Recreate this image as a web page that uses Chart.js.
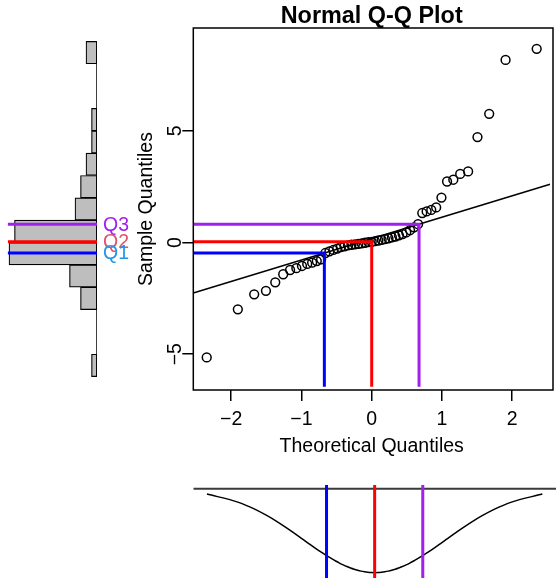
<!DOCTYPE html>
<html>
<head>
<meta charset="utf-8">
<script src="https://cdn.jsdelivr.net/npm/chart.js@4.4.1/dist/chart.umd.min.js"></script>
<style>
  html, body { margin: 0; padding: 0; background: #fff; }
  #wrap { position: relative; width: 556px; height: 578px; overflow: hidden; }
  canvas { position: absolute; }
</style>
</head>
<body>
<div id="wrap">
  <canvas id="histChart" width="140" height="460" style="left:0;top:0"></canvas>
  <canvas id="qqChart" width="556" height="460" style="left:0;top:0"></canvas>
  <canvas id="densChart" width="556" height="118" style="left:0;top:460px"></canvas>
</div>
<script>
// sorted sample values
const sampleQuantiles = [
  -5.14, -2.99, -2.32, -2.16, -1.78, -1.42, -1.23, -1.15, -1.05, -0.96,
  -0.90, -0.83, -0.75, -0.47, -0.40, -0.33, -0.27, -0.21, -0.17, -0.13,
  -0.10, -0.08, -0.06, -0.04, -0.01, 0.02, 0.03, 0.06, 0.09, 0.12,
  0.15, 0.19, 0.23, 0.27, 0.32, 0.38, 0.45, 0.55, 0.68, 0.82,
  1.32, 1.39, 1.46, 1.57, 2.01, 2.73, 2.81, 3.07, 3.18, 4.72,
  5.76, 8.17, 8.67
];

// theoretical normal quantiles for 53 points
const theoQuantiles = [
  -2.349, -1.906, -1.673, -1.506, -1.373, -1.260, -1.162, -1.073, -0.993, -0.918,
  -0.848, -0.782, -0.720, -0.660, -0.602, -0.546, -0.492, -0.440, -0.388, -0.337,
  -0.288, -0.239, -0.190, -0.142, -0.095, -0.047, 0, 0.047, 0.095, 0.142,
  0.190, 0.239, 0.288, 0.337, 0.388, 0.440, 0.492, 0.546, 0.602, 0.660,
  0.720, 0.782, 0.848, 0.918, 0.993, 1.073, 1.162, 1.260, 1.373, 1.506,
  1.673, 1.906, 2.349
];

// normal density at those quantiles (bottom strip, drawn upside down)
const densityValues = [
  0.0253, 0.0649, 0.0984, 0.1284, 0.1554, 0.1804, 0.2031, 0.2243, 0.2437, 0.2618,
  0.2785, 0.2938, 0.3079, 0.3209, 0.3328, 0.3437, 0.3535, 0.3621, 0.3700, 0.3769,
  0.3827, 0.3877, 0.3918, 0.3949, 0.3971, 0.3985, 0.3989, 0.3985, 0.3971, 0.3949,
  0.3918, 0.3877, 0.3827, 0.3769, 0.3700, 0.3621, 0.3535, 0.3437, 0.3328, 0.3209,
  0.3079, 0.2938, 0.2785, 0.2618, 0.2437, 0.2243, 0.2031, 0.1804, 0.1554, 0.1284,
  0.0984, 0.0649, 0.0253
];

// histogram of the sample, unit bins from -6 to 9
const binMids = [-5.5, -4.5, -3.5, -2.5, -1.5, -0.5, 0.5, 1.5, 2.5, 3.5, 4.5, 5.5, 6.5, 7.5, 8.5];
const binCounts = [1, 0, 0, 3, 5, 16, 15, 4, 3, 2, 1, 1, 0, 0, 2];
const binRange = [-6, 9];

const quartNames = ['Q1', 'Q2', 'Q3'];
const normQuartiles = [-0.674, 0, 0.674];
const quartColors = ['#0000FF', '#FF0000', '#A020F0'];
const quartTextColors = ['#2297E6', '#DF536B', '#A020F0'];

const xTicks = [-2, -1, 0, 1, 2];
const yTicks = [-5, 0, 5];

const FONT = "'Liberation Sans', Arial, Helvetica, sans-serif";
const X_MIN = -2.54, X_MAX = 2.54;
const Y_MIN = -6.6, Y_MAX = 9.6;
const SEG_BOTTOM = -6.45;
const D_MIN = -0.4244, D_MAX = 0.0176;
const BOX_RIGHT = 553;

// sample quartiles (type 7 on 53 values lands exactly on points 14, 27, 40)
const sampleQuart = [sampleQuantiles[13], sampleQuantiles[26], sampleQuantiles[39]];
const slope = (sampleQuart[2] - sampleQuart[0]) / (normQuartiles[2] - normQuartiles[0]);
const icpt = sampleQuart[0] - slope * normQuartiles[0];

function minus(v) {
  return String(v).replace('-', '\u2212');
}

function lineSet(points, color, width) {
  return {
    type: 'scatter',
    data: points,
    showLine: true,
    borderColor: color,
    borderWidth: width,
    pointRadius: 0,
    fill: false
  };
}

// Q-Q panel
const boxPlugin = {
  id: 'box',
  afterDraw(chart) {
    const a = chart.chartArea;
    const ctx = chart.ctx;
    ctx.save();
    ctx.strokeStyle = '#000';
    ctx.lineWidth = 1.5;
    ctx.strokeRect(a.left, a.top, BOX_RIGHT - a.left, a.bottom - a.top);
    ctx.restore();
  }
};

const qqSets = [];
quartNames.forEach(function(n, i) {
  qqSets.push(lineSet([
    {x: X_MIN, y: sampleQuart[i]},
    {x: normQuartiles[i], y: sampleQuart[i]},
    {x: normQuartiles[i], y: SEG_BOTTOM}
  ], quartColors[i], 3));
});
qqSets.push(lineSet([
  {x: X_MIN, y: icpt + slope * X_MIN},
  {x: X_MAX, y: icpt + slope * X_MAX}
], '#000', 1.5));
qqSets.push({
  type: 'scatter',
  data: theoQuantiles.map(function(t, i) { return {x: t, y: sampleQuantiles[i]}; }),
  pointRadius: 4.4,
  pointBorderWidth: 1.5,
  pointBorderColor: '#000',
  pointBackgroundColor: 'rgba(0,0,0,0)'
});

new Chart(document.getElementById('qqChart'), {
  type: 'scatter',
  data: { datasets: qqSets },
  options: {
    responsive: false,
    animation: false,
    events: [],
    layout: { padding: { left: 134.6, right: 0, top: 4.6, bottom: 2 } },
    plugins: {
      legend: { display: false },
      tooltip: { enabled: false },
      title: {
        display: true,
        text: 'Normal Q-Q Plot',
        fullSize: false,
        color: '#000',
        font: { family: FONT, size: 23.4, weight: 'bold', lineHeight: 1 },
        padding: { top: 0, bottom: 0 }
      }
    },
    scales: {
      x: {
        type: 'linear',
        min: X_MIN,
        max: X_MAX,
        afterBuildTicks: function(s) { s.ticks = xTicks.map(function(v) { return {value: v}; }); },
        afterFit: function(s) { s.height = 68; },
        border: { display: false },
        grid: { drawOnChartArea: false, drawTicks: true, tickLength: 11, color: '#000', lineWidth: 1.5 },
        ticks: {
          color: '#000',
          padding: 7.3,
          maxRotation: 0,
          font: { family: FONT, size: 19.5, lineHeight: 1.2 },
          callback: function(v) { return minus(v); }
        },
        title: {
          display: true,
          text: 'Theoretical Quantiles',
          color: '#000',
          padding: 0,
          font: { family: FONT, size: 19.5, lineHeight: 1.2 }
        }
      },
      y: {
        type: 'linear',
        min: Y_MIN,
        max: Y_MAX,
        afterBuildTicks: function(s) { s.ticks = yTicks.map(function(v) { return {value: v}; }); },
        afterFit: function(s) { s.width = 58.7; },
        border: { display: false },
        grid: { drawOnChartArea: false, drawTicks: true, tickLength: 11, color: '#000', lineWidth: 1.5 },
        ticks: {
          color: '#000',
          padding: -4.8,
          minRotation: 90,
          maxRotation: 90,
          crossAlign: 'center',
          font: { family: FONT, size: 19.5, lineHeight: 1.2 },
          callback: function(v) { return minus(v); }
        },
        title: {
          display: true,
          text: 'Sample Quantiles',
          color: '#000',
          padding: 0,
          font: { family: FONT, size: 19.5, lineHeight: 1.2 }
        }
      }
    }
  },
  plugins: [boxPlugin]
});

// side histogram
const quartLabelPlugin = {
  id: 'quartLabels',
  afterDatasetsDraw(chart) {
    const ctx = chart.ctx;
    const ys = chart.scales.y;
    ctx.save();
    ctx.font = '19.5px ' + FONT;
    ctx.textAlign = 'left';
    ctx.textBaseline = 'middle';
    for (let i = quartNames.length - 1; i >= 0; i--) {
      ctx.fillStyle = quartTextColors[i];
      ctx.fillText(quartNames[i], chart.chartArea.right + 6, ys.getPixelForValue(sampleQuart[i]) + 1);
    }
    ctx.restore();
  }
};

const histSets = [];
quartNames.forEach(function(n, i) {
  histSets.push(lineSet([
    {x: 0, y: sampleQuart[i]},
    {x: Math.max.apply(null, binCounts) + 0.2, y: sampleQuart[i]}
  ], quartColors[i], 3));
});
histSets.push(lineSet([{x: 0, y: binRange[0]}, {x: 0, y: binRange[1]}], '#000', 1.5));
histSets.push({
  type: 'bar',
  indexAxis: 'y',
  data: binMids.map(function(m, i) { return {x: binCounts[i], y: m}; }),
  backgroundColor: '#BEBEBE',
  borderColor: '#000',
  borderWidth: 1.2,
  borderSkipped: false,
  barPercentage: 1,
  categoryPercentage: 1
});

new Chart(document.getElementById('histChart'), {
  type: 'bar',
  data: { datasets: histSets },
  options: {
    responsive: false,
    animation: false,
    events: [],
    indexAxis: 'y',
    layout: { padding: { left: 0, right: 43, top: 28, bottom: 70 } },
    plugins: { legend: { display: false }, tooltip: { enabled: false } },
    scales: {
      x: { type: 'linear', reverse: true, min: 0, max: 97 / 5.5, offset: false, display: false },
      y: { type: 'linear', min: Y_MIN, max: Y_MAX, offset: false, grid: { offset: false }, display: false }
    }
  },
  plugins: [quartLabelPlugin]
});

// bottom density strip
const densSets = [];
quartNames.forEach(function(n, i) {
  densSets.push(lineSet([
    {x: normQuartiles[i], y: D_MIN},
    {x: normQuartiles[i], y: D_MAX}
  ], quartColors[i], 3));
});
densSets.push(lineSet([{x: X_MIN, y: 0}, {x: X_MAX, y: 0}], '#3a3a3a', 2));
const curve = lineSet(theoQuantiles.map(function(t, i) { return {x: t, y: -densityValues[i]}; }), '#000', 1.5);
curve.cubicInterpolationMode = 'monotone';
densSets.push(curve);

new Chart(document.getElementById('densChart'), {
  type: 'scatter',
  data: { datasets: densSets },
  options: {
    responsive: false,
    animation: false,
    events: [],
    layout: { padding: { left: 193.3, right: 0, top: 25, bottom: 0 } },
    plugins: { legend: { display: false }, tooltip: { enabled: false } },
    scales: {
      x: { type: 'linear', min: X_MIN, max: X_MAX, display: false },
      y: { type: 'linear', min: D_MIN, max: D_MAX, display: false }
    }
  }
});
</script>
</body>
</html>
